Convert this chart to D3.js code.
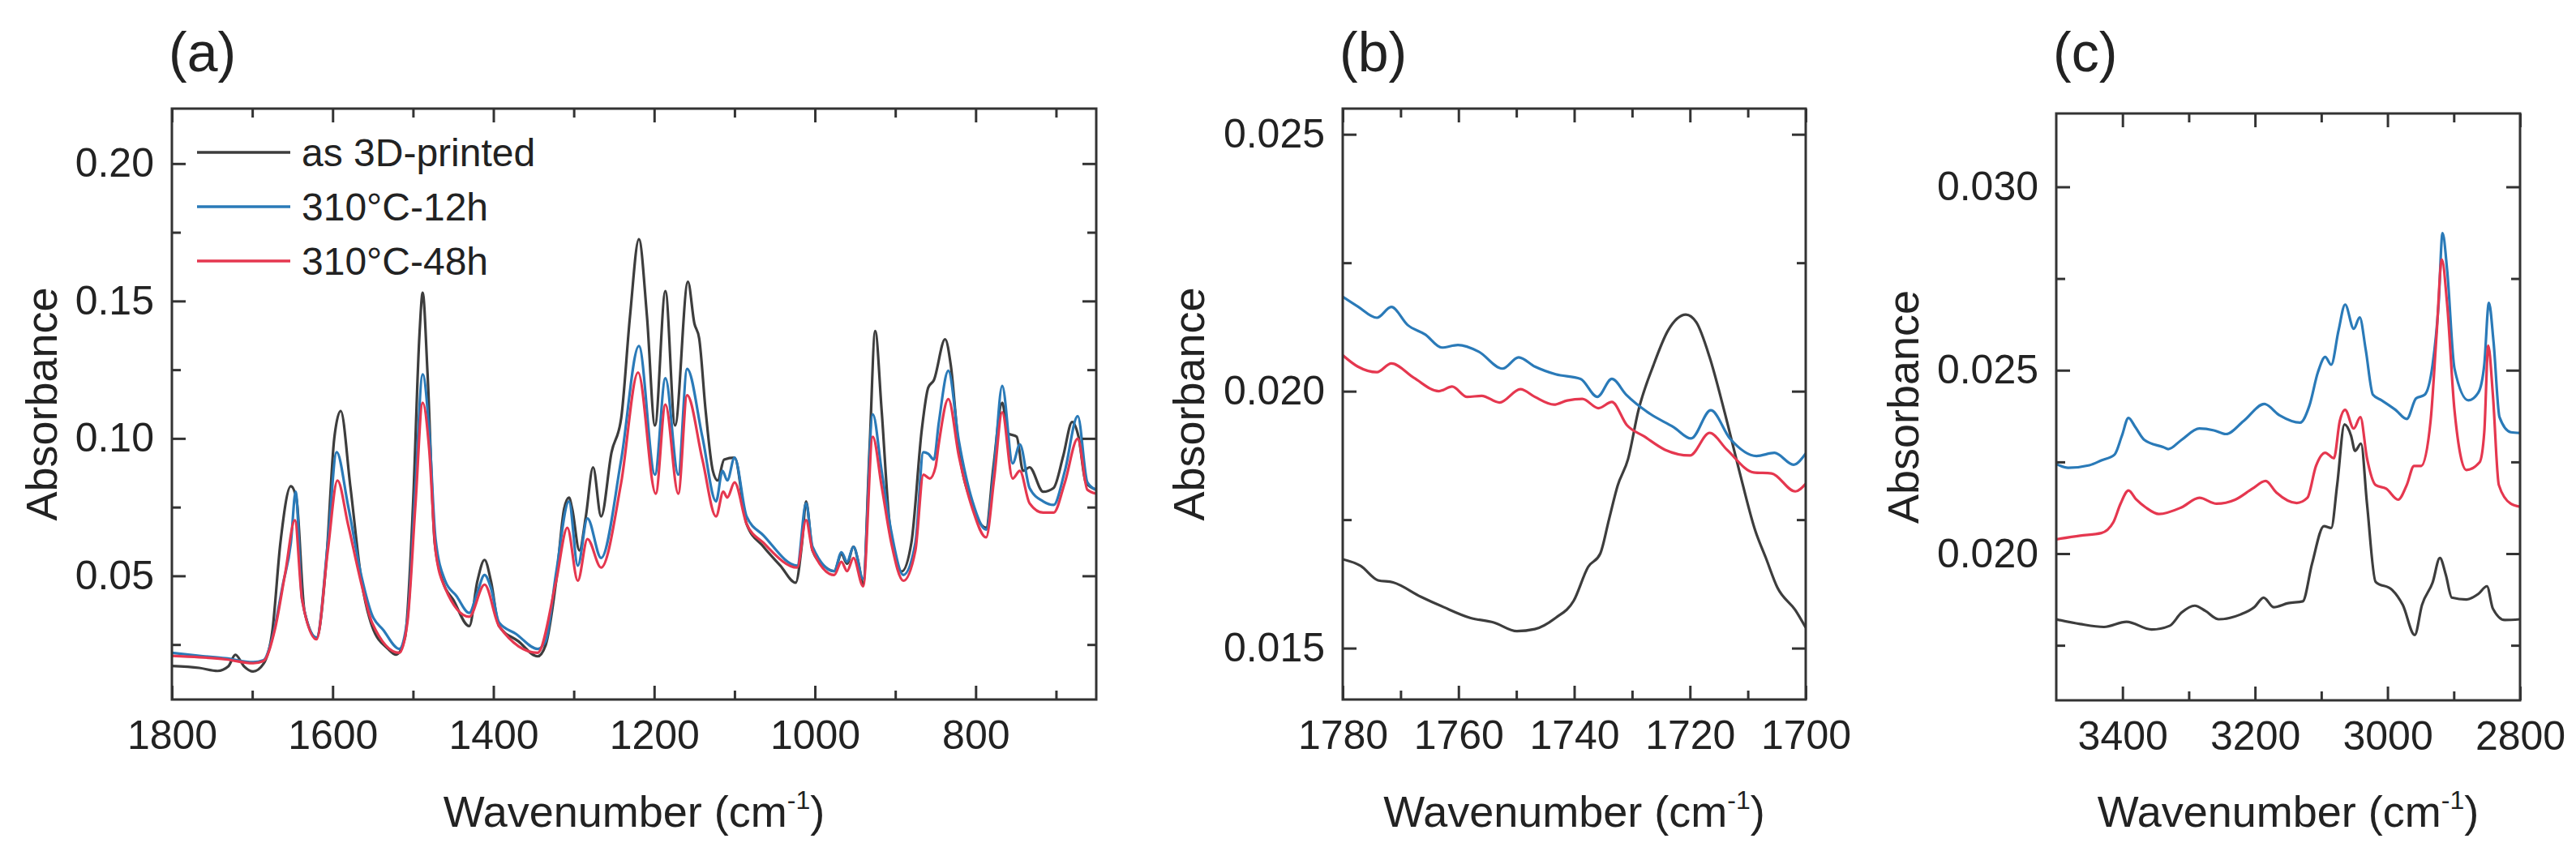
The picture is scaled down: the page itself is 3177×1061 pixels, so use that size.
<!DOCTYPE html>
<html>
<head>
<meta charset="utf-8">
<script src="https://cdn.jsdelivr.net/npm/d3@7"></script>
<style>
  body { margin: 0; background: #fff; }
  text { font-family: "Liberation Sans", Arial, sans-serif; fill: #222; }
</style>
</head>
<body>
<div id="vis"></div>
<script>
// frame
const FRAME_WIDTH = 3177;
const FRAME_HEIGHT = 1061;

// legend
const SERIES_NAMES = ["as 3D-printed", "310\u00B0C-12h", "310\u00B0C-48h"];
const SERIES_COLORS = ["#3d3d3d", "#2a7ab8", "#e5374f"];

// ---- panel (a) data : 1800 - 650 cm-1 ----
const A_PRINTED_WN = [1800,1766,1743,1730,1721,1710,1699,1686,1675,1665,1652,1645,1635,1620,1608,1598,1590,1578,1564,1551,1531,1521,1510,1500,1492,1488,1482,1473,1463,1450,1430,1420,1411,1403,1393,1369,1345,1335,1322,1312,1306,1302,1293,1285,1276,1266,1253,1241,1230,1219,1209,1199,1186,1174,1158,1150,1144,1136,1127,1121,1113,1100,1085,1064,1043,1024,1016,1011,1003,989,976,967,960,952,946,940,932,925,917,907,892,880,867,859,852,838,831,821,806,787,778,767,760,749,741,733,716,703,691,680,672,663,650];
const A_PRINTED_ABS = [0.0172,0.0165,0.0154,0.0170,0.0213,0.0170,0.0152,0.0180,0.0300,0.0620,0.0826,0.0780,0.0370,0.0275,0.0550,0.1000,0.1100,0.0826,0.0480,0.0317,0.0234,0.0213,0.0275,0.0758,0.1377,0.1530,0.1240,0.0620,0.0480,0.0413,0.0317,0.0480,0.0558,0.0480,0.0317,0.0262,0.0207,0.0248,0.0480,0.0744,0.0785,0.0744,0.0592,0.0716,0.0895,0.0716,0.0950,0.1074,0.1446,0.1725,0.1446,0.1047,0.1536,0.1047,0.1570,0.1419,0.1364,0.1102,0.0882,0.0847,0.0923,0.0930,0.0689,0.0606,0.0537,0.0475,0.0620,0.0771,0.0592,0.0537,0.0517,0.0579,0.0544,0.0606,0.0551,0.0468,0.0964,0.1391,0.1102,0.0689,0.0516,0.0620,0.1033,0.1185,0.1212,0.1361,0.1267,0.0964,0.0771,0.0675,0.0895,0.1130,0.1019,0.1006,0.0882,0.0895,0.0806,0.0820,0.0937,0.1060,0.1006,0.0840,0.0813];

const A_12H_WN = [1800,1766,1733,1699,1686,1675,1662,1652,1646,1638,1620,1606,1595,1581,1564,1551,1537,1517,1507,1497,1488,1480,1472,1460,1446,1430,1420,1411,1403,1393,1372,1345,1335,1322,1306,1295,1283,1266,1241,1219,1199,1186,1170,1159,1140,1123,1115,1109,1100,1085,1064,1022,1011,1003,976,967,960,952,940,928,917,905,890,875,865,859,852,846,834,821,804,787,777,767,754,745,733,716,703,689,673,661,650];
const A_12H_ABS = [0.0220,0.0209,0.0200,0.0186,0.0193,0.0275,0.0468,0.0620,0.0806,0.0413,0.0275,0.0620,0.0950,0.0758,0.0496,0.0358,0.0303,0.0234,0.0344,0.0826,0.1233,0.1033,0.0634,0.0482,0.0427,0.0365,0.0440,0.0503,0.0455,0.0330,0.0289,0.0234,0.0262,0.0510,0.0771,0.0537,0.0709,0.0565,0.0923,0.1336,0.0868,0.1219,0.0868,0.1253,0.1005,0.0771,0.0882,0.0847,0.0930,0.0716,0.0647,0.0537,0.0764,0.0606,0.0517,0.0586,0.0551,0.0606,0.0489,0.1088,0.0882,0.0661,0.0503,0.0620,0.0950,0.0944,0.0923,0.1054,0.1246,0.0992,0.0771,0.0668,0.0895,0.1191,0.0909,0.0978,0.0820,0.0771,0.0758,0.0882,0.1081,0.0840,0.0813];

const A_48H_WN = [1800,1766,1733,1699,1686,1672,1659,1647,1638,1620,1606,1594,1581,1564,1551,1517,1507,1497,1488,1480,1472,1460,1430,1411,1393,1345,1322,1308,1295,1283,1266,1241,1220,1198,1186,1170,1159,1140,1123,1114,1109,1100,1085,1064,1022,1011,1003,976,967,960,952,940,928,917,905,890,875,865,857,850,846,834,821,804,787,777,767,754,745,733,716,703,689,673,661,650];
const A_48H_ABS = [0.0209,0.0204,0.0196,0.0182,0.0190,0.0303,0.0510,0.0702,0.0413,0.0269,0.0592,0.0847,0.0689,0.0468,0.0330,0.0220,0.0330,0.0758,0.1130,0.0964,0.0592,0.0455,0.0351,0.0468,0.0317,0.0220,0.0480,0.0675,0.0482,0.0634,0.0530,0.0840,0.1240,0.0799,0.1123,0.0799,0.1157,0.0923,0.0716,0.0806,0.0785,0.0840,0.0689,0.0620,0.0530,0.0703,0.0592,0.0503,0.0551,0.0517,0.0565,0.0462,0.1006,0.0826,0.0620,0.0482,0.0592,0.0868,0.0854,0.0895,0.0978,0.1143,0.0937,0.0744,0.0640,0.0854,0.1095,0.0854,0.0882,0.0764,0.0730,0.0730,0.0840,0.0999,0.0813,0.0799];

// ---- panel (b) data : 1780 - 1700 cm-1 ----
const B_PRINTED_WN = [1780,1776.9,1773.9,1771.3,1766.5,1762.6,1758.0,1753.9,1749.9,1746.8,1743.2,1740.1,1737.6,1735.5,1734.0,1732.5,1730.7,1728.9,1726.3,1723.8,1720.7,1718.9,1716.6,1714.1,1711.5,1708.7,1706.9,1704.9,1701.8,1700];
const B_PRINTED_ABS = [0.01673,0.01660,0.01632,0.01628,0.01600,0.01580,0.01559,0.01550,0.01533,0.01537,0.01559,0.01592,0.01658,0.01684,0.01750,0.01816,0.01868,0.01963,0.02051,0.02118,0.02149,0.02134,0.02066,0.01963,0.01846,0.01728,0.01676,0.01618,0.01574,0.01540];

const B_12H_WN = [1780,1777.4,1774.1,1771.6,1768.8,1765.7,1762.9,1760.1,1756.5,1752.4,1749.6,1746.8,1743.2,1738.9,1736.0,1733.5,1731.0,1726.9,1722.8,1719.8,1716.4,1713.1,1708.5,1705.4,1702.1,1700];
const B_12H_ABS = [0.02184,0.02165,0.02143,0.02164,0.02129,0.02110,0.02085,0.02090,0.02077,0.02044,0.02066,0.02048,0.02033,0.02024,0.01989,0.02024,0.01993,0.01956,0.01930,0.01908,0.01963,0.01908,0.01874,0.01880,0.01857,0.01879];

const B_48H_WN = [1780,1777.4,1774.1,1771.6,1767.7,1763.4,1761.1,1758.5,1756.0,1752.9,1749.3,1746.8,1743.5,1741.2,1738.6,1735.8,1733.5,1730.9,1727.9,1724.3,1720.0,1716.6,1713.6,1709.0,1705.9,1701.8,1700];
const B_48H_ABS = [0.02070,0.02048,0.02037,0.02054,0.02026,0.02000,0.02009,0.01989,0.01991,0.01978,0.02004,0.01989,0.01974,0.01982,0.01985,0.01967,0.01979,0.01934,0.01912,0.01886,0.01875,0.01919,0.01886,0.01842,0.01840,0.01805,0.01820];

// ---- panel (c) data : 3500 - 2800 cm-1 ----
const C_PRINTED_WN = [3500,3464,3428,3394,3356,3329,3311,3291,3275,3255,3222,3201,3187,3172,3150,3128,3114,3096,3085,3076,3065,3055,3049,3040,3031,3018,2993,2977,2959,2948,2932,2921,2912,2903,2881,2863,2850,2841,2823,2800];
const C_PRINTED_ABS = [0.01821,0.01808,0.01800,0.01814,0.01793,0.01803,0.01839,0.01858,0.01844,0.01821,0.01834,0.01854,0.01880,0.01854,0.01865,0.01870,0.01972,0.02075,0.02070,0.02188,0.02352,0.02321,0.02280,0.02300,0.02136,0.01923,0.01901,0.01860,0.01778,0.01860,0.01921,0.01988,0.01942,0.01880,0.01875,0.01890,0.01911,0.01850,0.01819,0.01821];

const C_12H_WN = [3500,3482,3450,3432,3412,3401,3391,3381,3367,3338,3331,3311,3284,3262,3244,3217,3186,3163,3132,3118,3105,3094,3085,3074,3064,3051,3042,3033,3022,3009,2988,2971,2957,2944,2932,2923,2917,2910,2899,2878,2863,2854,2847,2840,2831,2814,2800];
const C_12H_ABS = [0.02244,0.02234,0.02241,0.02254,0.02270,0.02321,0.02370,0.02346,0.02310,0.02290,0.02285,0.02310,0.02341,0.02336,0.02326,0.02362,0.02408,0.02377,0.02357,0.02403,0.02495,0.02536,0.02515,0.02608,0.02679,0.02613,0.02644,0.02557,0.02433,0.02418,0.02392,0.02367,0.02423,0.02433,0.02515,0.02679,0.02874,0.02772,0.02505,0.02418,0.02439,0.02515,0.02684,0.02577,0.02372,0.02331,0.02329];

const C_48H_WN = [3500,3464,3432,3414,3403,3391,3379,3365,3345,3311,3284,3258,3230,3204,3184,3168,3137,3121,3108,3094,3081,3072,3064,3051,3041,3031,3018,3002,2984,2971,2960,2949,2935,2926,2918,2910,2899,2881,2861,2854,2848,2841,2832,2814,2800];
const C_48H_ABS = [0.02039,0.02049,0.02056,0.02085,0.02136,0.02172,0.02147,0.02126,0.02108,0.02126,0.02152,0.02136,0.02147,0.02177,0.02198,0.02167,0.02138,0.02152,0.02239,0.02275,0.02260,0.02362,0.02392,0.02341,0.02372,0.02260,0.02187,0.02177,0.02147,0.02187,0.02239,0.02239,0.02362,0.02597,0.02802,0.02679,0.02392,0.02228,0.02249,0.02331,0.02567,0.02433,0.02187,0.02136,0.02128];

// ---- tick values ----
const A_X_MAJOR = [1800, 1600, 1400, 1200, 1000, 800];
const A_X_MINOR = [1700, 1500, 1300, 1100, 900, 700];
const A_Y_MAJOR = [0.05, 0.10, 0.15, 0.20];
const A_Y_MINOR = [0.025, 0.075, 0.125, 0.175];
const B_X_MAJOR = [1780, 1760, 1740, 1720, 1700];
const B_X_MINOR = [1770, 1750, 1730, 1710];
const B_Y_MAJOR = [0.015, 0.020, 0.025];
const B_Y_MINOR = [0.0175, 0.0225];
const C_X_MAJOR = [3400, 3200, 3000, 2800];
const C_X_MINOR = [3300, 3100, 2900];
const C_Y_MAJOR = [0.020, 0.025, 0.030];
const C_Y_MINOR = [0.0175, 0.0225, 0.0275];

const zip = (xs, ys) => xs.map((x, i) => [x, ys[i]]);

const SVG = d3.select("#vis")
  .append("svg")
    .attr("width", FRAME_WIDTH)
    .attr("height", FRAME_HEIGHT);

function drawPanel(p) {
  const W = p.right - p.left;
  const H = p.bottom - p.top;

  const X_SCALE = d3.scaleLinear().domain(p.xDomain).range([0, W]);
  const Y_SCALE = d3.scaleLinear().domain(p.yDomain).range([H, 0]);

  const g = SVG.append("g")
    .attr("transform", "translate(" + p.left + "," + p.top + ")");

  g.append("clipPath").attr("id", "clip-" + p.id)
    .append("rect").attr("width", W).attr("height", H);

  // spectra
  const line = d3.line()
    .x(d => X_SCALE(d[0]))
    .y(d => Y_SCALE(d[1]))
    .curve(d3.curveMonotoneX);

  g.append("g").attr("clip-path", "url(#clip-" + p.id + ")")
    .selectAll("path")
    .data(p.series)
    .enter()
    .append("path")
      .attr("d", d => line(d.values))
      .attr("fill", "none")
      .attr("stroke", d => d.color)
      .attr("stroke-width", 3.2)
      .attr("stroke-linejoin", "round");

  // axes with inward ticks
  const MAJOR = 17, MINOR = 11;
  function addAxis(axis, transform, labels) {
    const a = g.append("g").attr("transform", transform).call(axis);
    a.select(".domain").remove();
    a.selectAll("line").attr("stroke", "#333").attr("stroke-width", 3);
    a.selectAll("text").attr("font-size", 50).style("font-family", "Liberation Sans, Arial, sans-serif").attr("fill", "#222");
    if (!labels) a.selectAll("text").remove();
    return a;
  }
  addAxis(d3.axisBottom(X_SCALE).tickValues(p.xMajor).tickSize(-MAJOR).tickPadding(25).tickFormat(d3.format("d")),
          "translate(0," + H + ")", true);
  addAxis(d3.axisBottom(X_SCALE).tickValues(p.xMinor).tickSize(-MINOR).tickFormat(""), "translate(0," + H + ")", false);
  addAxis(d3.axisTop(X_SCALE).tickValues(p.xMajor).tickSize(-MAJOR).tickFormat(""), "translate(0,0)", false);
  addAxis(d3.axisTop(X_SCALE).tickValues(p.xMinor).tickSize(-MINOR).tickFormat(""), "translate(0,0)", false);
  addAxis(d3.axisLeft(Y_SCALE).tickValues(p.yMajor).tickSize(-MAJOR).tickPadding(22).tickFormat(d3.format(p.yFormat)),
          "translate(0,0)", true);
  addAxis(d3.axisLeft(Y_SCALE).tickValues(p.yMinor).tickSize(-MINOR).tickFormat(""), "translate(0,0)", false);
  addAxis(d3.axisRight(Y_SCALE).tickValues(p.yMajor).tickSize(-MAJOR).tickFormat(""), "translate(" + W + ",0)", false);
  addAxis(d3.axisRight(Y_SCALE).tickValues(p.yMinor).tickSize(-MINOR).tickFormat(""), "translate(" + W + ",0)", false);

  // frame
  g.append("rect")
    .attr("width", W).attr("height", H)
    .attr("fill", "none").attr("stroke", "#333").attr("stroke-width", 3);

  // panel letter
  SVG.append("text")
    .attr("x", p.left - 4).attr("y", 88)
    .attr("font-size", 68)
    .text(p.label);

  // y title
  SVG.append("text")
    .attr("transform", "translate(" + p.yTitleX + "," + ((p.top + p.bottom) / 2) + ") rotate(-90)")
    .attr("text-anchor", "middle")
    .attr("font-size", 54)
    .text("Absorbance");

  // x title
  const xt = SVG.append("text")
    .attr("x", (p.left + p.right) / 2).attr("y", 1020)
    .attr("text-anchor", "middle")
    .attr("font-size", 54);
  xt.append("tspan").text("Wavenumber (cm");
  xt.append("tspan").attr("dy", -22).attr("font-size", 32).text("-1");
  xt.append("tspan").attr("dy", 22).text(")");

  return g;
}

const colorOf = i => SERIES_COLORS[i];

const PANEL_A = drawPanel({
  id: "a", label: "(a)", left: 212, right: 1352, top: 134, bottom: 863,
  xDomain: [1800, 650], yDomain: [0.005, 0.22],
  xMajor: A_X_MAJOR, xMinor: A_X_MINOR, yMajor: A_Y_MAJOR, yMinor: A_Y_MINOR, yFormat: ".2f",
  yTitleX: 70,
  series: [
    {color: colorOf(0), values: zip(A_PRINTED_WN, A_PRINTED_ABS)},
    {color: colorOf(1), values: zip(A_12H_WN, A_12H_ABS)},
    {color: colorOf(2), values: zip(A_48H_WN, A_48H_ABS)}
  ]
});

drawPanel({
  id: "b", label: "(b)", left: 1656, right: 2227, top: 134, bottom: 863,
  xDomain: [1780, 1700], yDomain: [0.014, 0.0255],
  xMajor: B_X_MAJOR, xMinor: B_X_MINOR, yMajor: B_Y_MAJOR, yMinor: B_Y_MINOR, yFormat: ".3f",
  yTitleX: 1485,
  series: [
    {color: colorOf(0), values: zip(B_PRINTED_WN, B_PRINTED_ABS)},
    {color: colorOf(1), values: zip(B_12H_WN, B_12H_ABS)},
    {color: colorOf(2), values: zip(B_48H_WN, B_48H_ABS)}
  ]
});

drawPanel({
  id: "c", label: "(c)", left: 2536, right: 3108, top: 140, bottom: 864,
  xDomain: [3500, 2800], yDomain: [0.016, 0.032],
  xMajor: C_X_MAJOR, xMinor: C_X_MINOR, yMajor: C_Y_MAJOR, yMinor: C_Y_MINOR, yFormat: ".3f",
  yTitleX: 2366,
  series: [
    {color: colorOf(0), values: zip(C_PRINTED_WN, C_PRINTED_ABS)},
    {color: colorOf(1), values: zip(C_12H_WN, C_12H_ABS)},
    {color: colorOf(2), values: zip(C_48H_WN, C_48H_ABS)}
  ]
});

// legend in panel (a)
const LEGEND = PANEL_A.append("g").attr("transform", "translate(31,54)");
const rows = LEGEND.selectAll("g")
  .data(SERIES_NAMES)
  .enter()
  .append("g")
    .attr("transform", (d, i) => "translate(0," + (i * 67) + ")");
rows.append("line")
  .attr("x1", 0).attr("x2", 115)
  .attr("stroke", (d, i) => SERIES_COLORS[i])
  .attr("stroke-width", 3.5);
rows.append("text")
  .attr("x", 129).attr("y", 17)
  .attr("font-size", 48)
  .text(d => d);
</script>
</body>
</html>
